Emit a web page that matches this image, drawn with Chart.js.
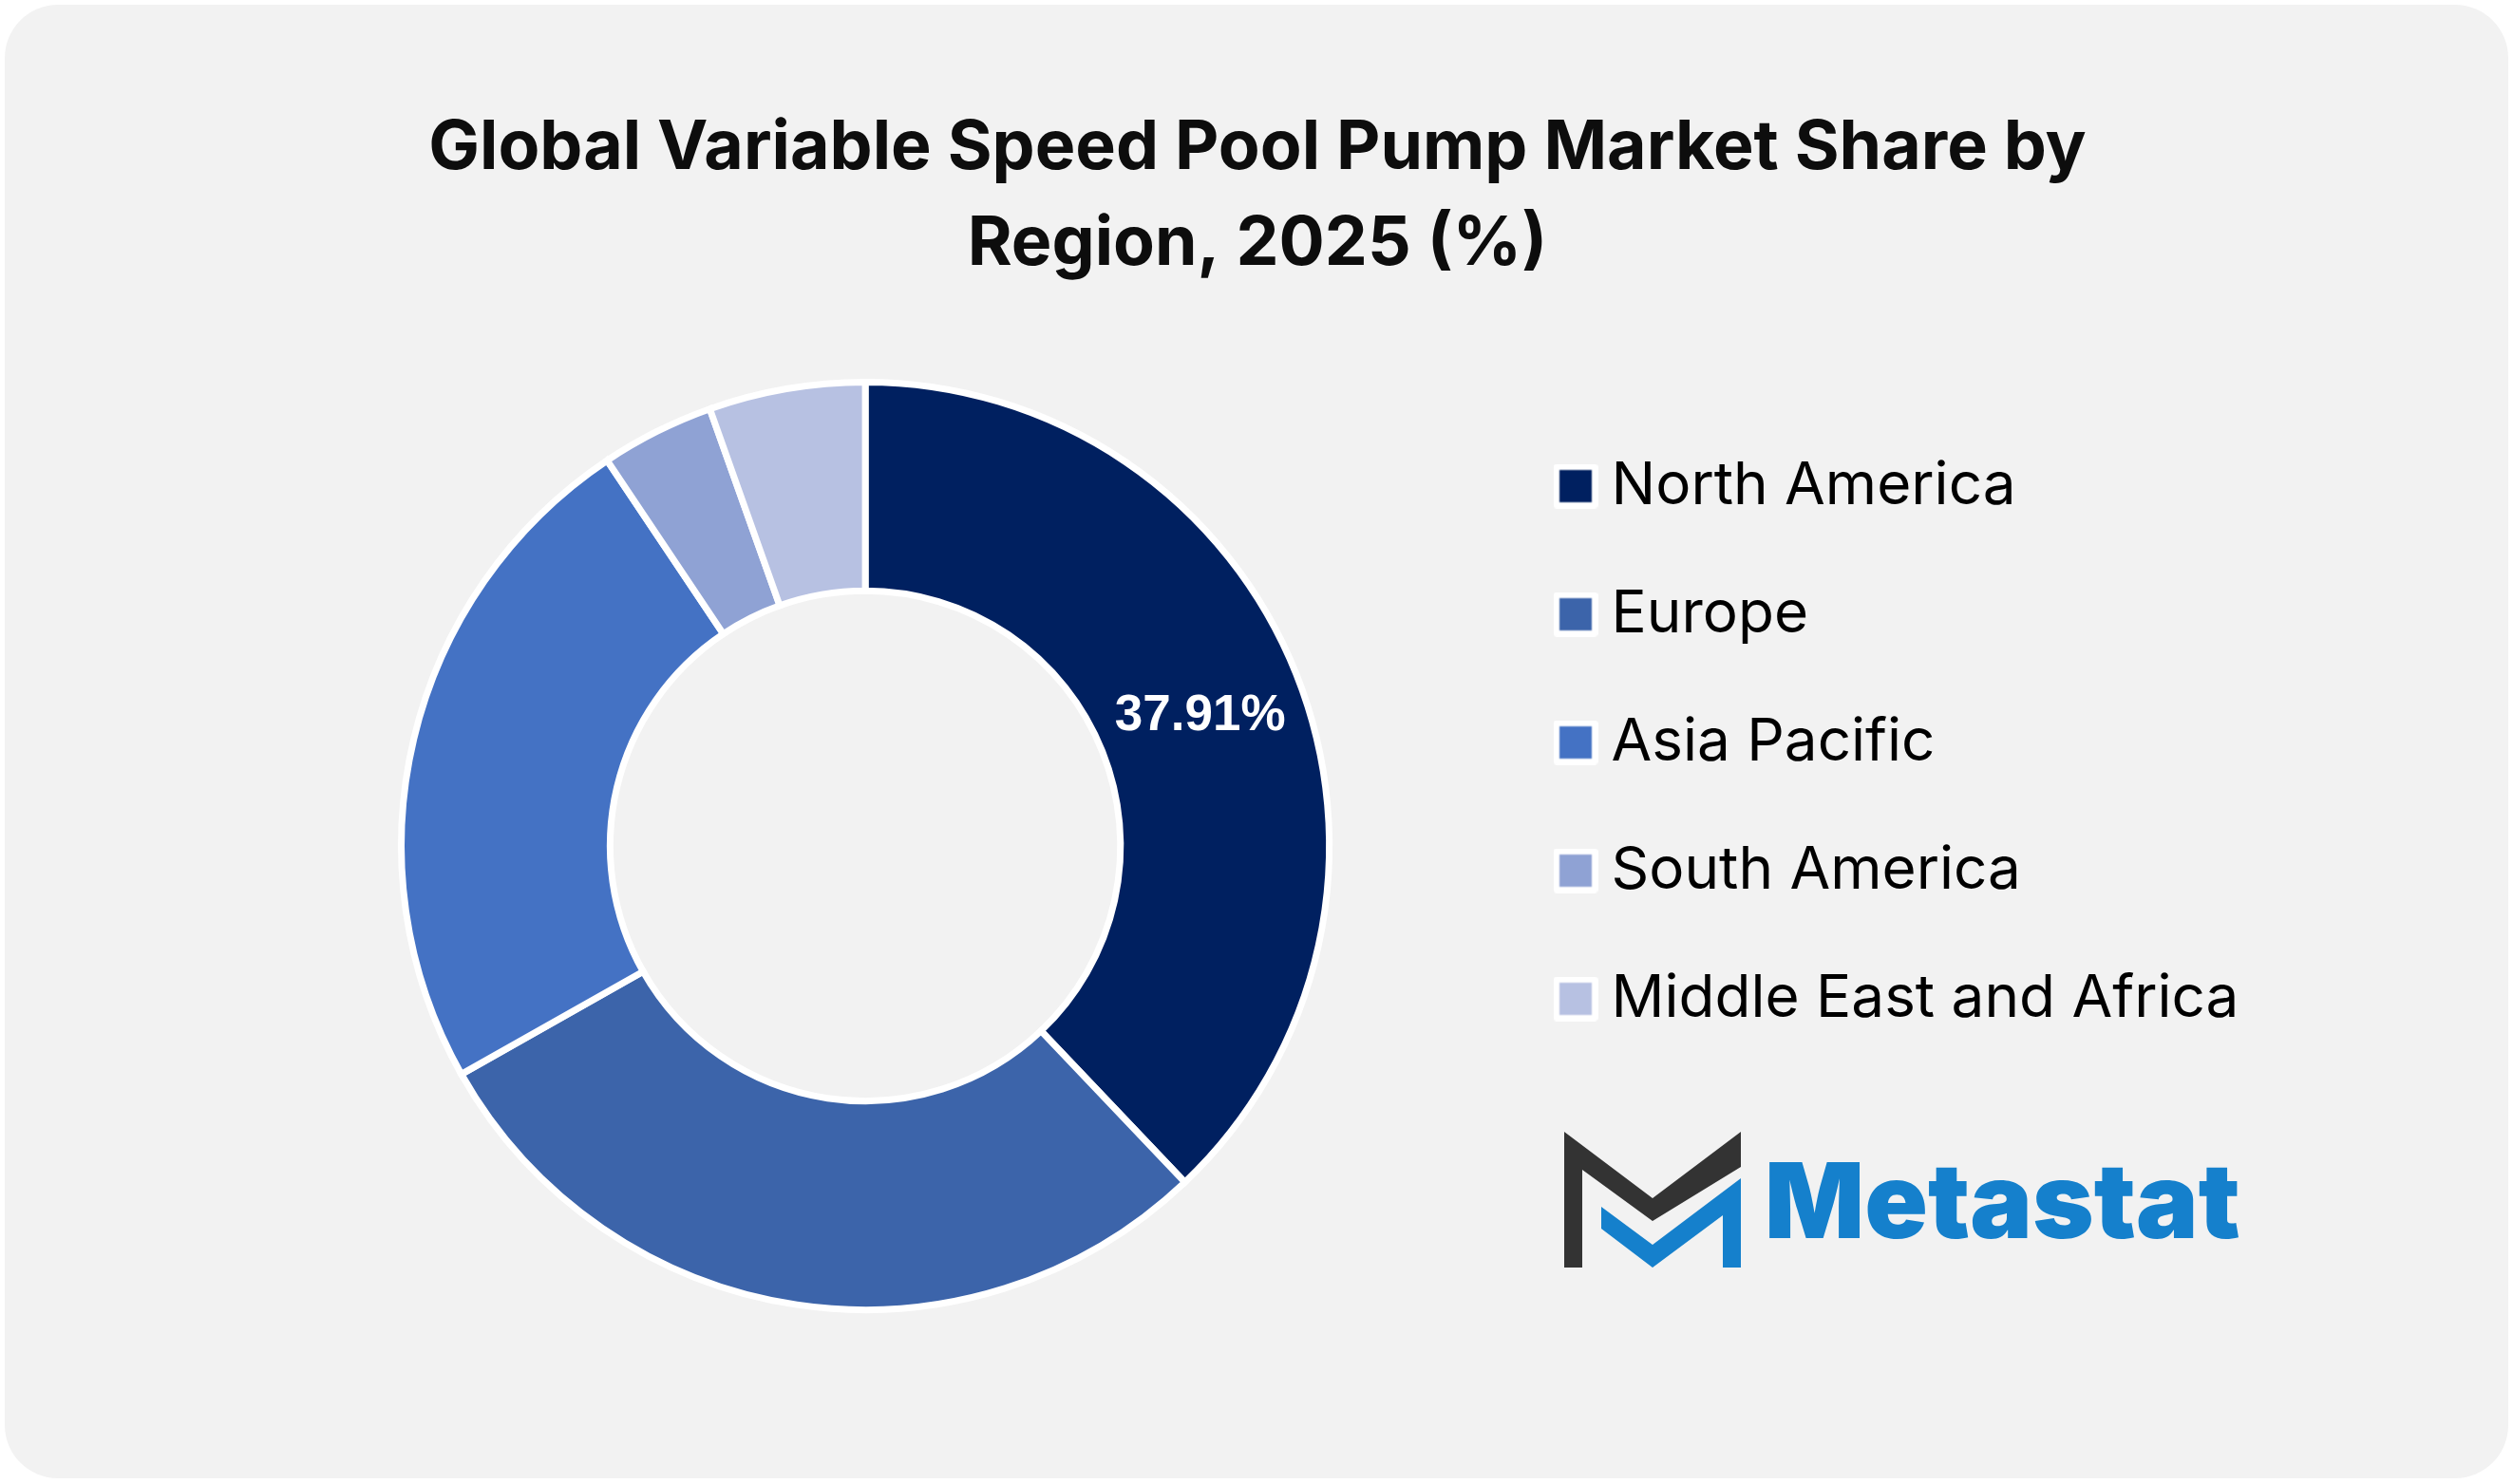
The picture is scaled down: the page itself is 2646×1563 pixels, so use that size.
<!DOCTYPE html>
<html><head><meta charset="utf-8">
<style>
html,body{margin:0;padding:0;background:#fff;width:2646px;height:1563px;overflow:hidden}
#card{position:absolute;left:5px;top:5px;width:2636px;height:1552px;background:#f2f2f2;border-radius:56px}
canvas{position:absolute;left:0;top:0}
</style>
<script src="https://cdn.jsdelivr.net/npm/chart.js@4"></script>
</head><body>
<div id="card"></div>
<canvas id="c" width="2646" height="1563" style="width:2646px;height:1563px"></canvas>
<script>
const categories = ["North America","Europe","Asia Pacific","South America","Middle East and Africa"];
const shares = [37.91,28.9,23.8,3.95,5.44];
const sliceColors = ["#002060","#3C64AA","#4472C4","#8FA2D4","#B7C1E2"];
const shownLabels = ["37.91%",null,null,null,null];
const titleLines = ["Global Variable Speed Pool Pump Market Share by","Region, 2025 (%)"];
const logoText = "Metastat";

function swatch(color){
  const c=document.createElement('canvas');c.width=47;c.height=47;
  const x=c.getContext('2d');
  x.fillStyle='#fff';x.beginPath();x.roundRect(0,0,47,47,4);x.fill();
  x.fillStyle=color;x.fillRect(6.5,6.5,34,34);
  return c;
}
function poly(ctx,pts){ctx.beginPath();pts.forEach((p,i)=>i?ctx.lineTo(p[0],p[1]):ctx.moveTo(p[0],p[1]));ctx.closePath();ctx.fill();}

const overlay = {
  id:'overlay',
  afterLayout(chart){
    chart.legend.left=1579.5;
    chart.legend.top=408;
    chart.titleBlock.left=0;
    chart.titleBlock.right=2648;
    chart.titleBlock.width=2648;
  },
  afterDatasetsDraw(chart){
    const ctx = chart.ctx;
    const arcs = chart.getDatasetMeta(0).data;
    ctx.save();
    ctx.fillStyle='#fff';
    ctx.font='bold 53px "Liberation Sans"';
    ctx.textAlign='center';ctx.textBaseline='middle';
    arcs.forEach((a,i)=>{
      if(!shownLabels[i])return;
      const p=a.tooltipPosition();
      ctx.fillText(shownLabels[i],p.x+1,p.y+4);
    });
    ctx.restore();
  },
  afterDraw(chart){
    const ctx=chart.ctx;
    ctx.save();
    ctx.fillStyle='#333333';
    poly(ctx,[[1647,1192],[1740,1262],[1833,1192],[1833,1229],[1740,1286],[1666,1232],[1666,1335],[1647,1335]]);
    ctx.fillStyle='#1580CC';
    poly(ctx,[[1686,1271],[1740,1311],[1833,1241],[1833,1335],[1814,1335],[1814,1280],[1740,1335],[1686,1294]]);
    ctx.font='900 110px "Inter"';
    ctx.textAlign='left';ctx.textBaseline='alphabetic';
    ctx.fillText(logoText,1858,1304,507);
    ctx.restore();
  }
};

new Chart(document.getElementById('c'),{
  type:'doughnut',
  data:{labels:categories,datasets:[{data:shares,backgroundColor:sliceColors,borderColor:'#ffffff',borderWidth:7,borderJoinStyle:'miter'}]},
  options:{
    responsive:false,animation:false,devicePixelRatio:1,cutout:'55%',
    layout:{padding:{left:0,right:36,top:0,bottom:180}},
    plugins:{
      tooltip:{enabled:false},
      title:{display:true,text:titleLines,color:'#0d0d0d',font:{family:'Inter',weight:'bold',size:71.6,lineHeight:1.41},padding:{top:106,bottom:91}},
      legend:{position:'right',align:'start',
        labels:{usePointStyle:true,pointStyleWidth:13,boxWidth:34,boxHeight:34,padding:73,color:'#0d0d0d',font:{family:'Inter',size:62},
          generateLabels(chart){return categories.map((t,i)=>({text:t,fillStyle:sliceColors[i],strokeStyle:'#fff',lineWidth:6,pointStyle:swatch(sliceColors[i]),index:i,hidden:false}));}
        }}
    }
  },
  plugins:[overlay]
});
</script>
</body></html>
